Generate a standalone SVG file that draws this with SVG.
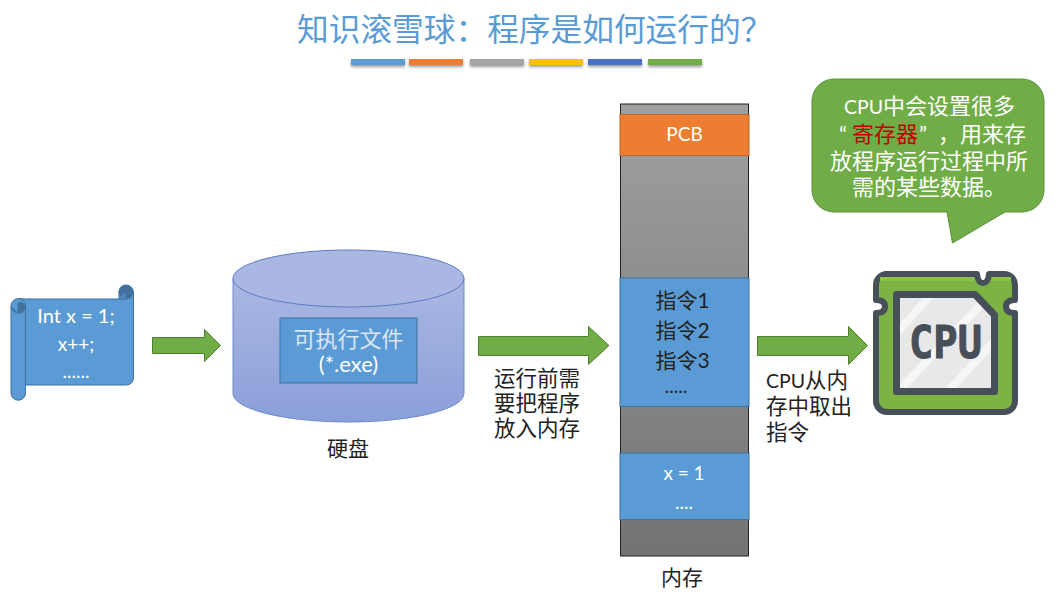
<svg xmlns="http://www.w3.org/2000/svg" width="1063" height="603" viewBox="0 0 1063 603">
<defs>
<linearGradient id="cyl" x1="0" y1="0" x2="0" y2="1"><stop offset="0" stop-color="#a9b7e2"/><stop offset="1" stop-color="#8b9fd9"/></linearGradient>
<linearGradient id="mem" x1="0" y1="0" x2="0" y2="1"><stop offset="0" stop-color="#a0a0a0"/><stop offset="1" stop-color="#737373"/></linearGradient>
<filter id="sh" x="-10%" y="-50%" width="120%" height="250%"><feDropShadow dx="0" dy="2" stdDeviation="1.500" flood-color="#000" flood-opacity="0.4"/></filter>
<clipPath id="chip"><path d="M896.500 294.500H975L994.500 315V391.500H896.500Z"/></clipPath>
</defs>
<style>
text{font-family:"Lato","Noto Sans CJK SC",sans-serif;text-anchor:middle}
.w{fill:#fff;font-size:19px}
.k{fill:#222;font-size:21px}
.t{fill:#5b9bd5;font-size:31.700px;text-anchor:start}
.arr{fill:#70ad47;stroke:#507e32;stroke-width:1}
.blue{fill:#5b9bd5;stroke:#41719c;stroke-width:1}
.kl{fill:#222;font-size:21.500px;text-anchor:start}
.c{fill:#fff;font-size:22px}
.lat{font-size:19.500px}
</style>
<rect width="1063" height="603" fill="#fff"/>
<g id="title">
<text class="t" x="297" y="41">知识滚雪球&#xFF1A;程序是如何运行的&#xFF1F;</text>
<g filter="url(#sh)">
<rect x="351" y="59" width="54" height="6" fill="#5b9bd5"/>
<rect x="409" y="59" width="54" height="6" fill="#ed7d31"/>
<rect x="470" y="59" width="54" height="6" fill="#a5a5a5"/>
<rect x="529" y="59" width="54" height="6" fill="#ffc000"/>
<rect x="588" y="59" width="54" height="6" fill="#4472c4"/>
<rect x="648" y="59" width="54" height="6" fill="#70ad47"/>
</g>
</g>
<g id="connectors">
<path class="arr" d="M152.500 337.500H204.500V329.500L220.500 345.500L204.500 361.500V353.500H152.500Z"/>
<path class="arr" d="M478.500 336.500H588.500V326.500L609 345.500L588.500 364.500V355.500H478.500Z"/>
<path class="arr" d="M757.500 336.500H848.500V326.500L867.500 345.500L848.500 364.500V355.500H757.500Z"/>
<text class="kl" x="494" y="386">运行前需</text>
<text class="kl" x="494" y="411">要把程序</text>
<text class="kl" x="494" y="436">放入内存</text>
<text class="kl" x="766" y="388"><tspan class="lat">CPU</tspan>从内</text>
<text class="kl" x="766" y="414">存中取出</text>
<text class="kl" x="766" y="440">指令</text>
</g>
<g id="program">
<path class="blue" d="M25 299H119V291.500A7.500 7.500 0 0 1 133.500 291.500V378A7 7 0 0 1 126.500 385H25.500V393A7 7 0 0 1 11 393V306A7.500 7.500 0 0 1 18.500 298.500Z"/>
<circle cx="126" cy="292" r="7.500" fill="#41719c"/>
<path d="M119 299H126V292" fill="#4f8cc4" stroke="#41719c"/>
<path d="M18 298.500A7.500 7.500 0 0 1 25.500 306V385" fill="none" stroke="#41719c"/>
<path d="M11 306A7.500 7.500 0 0 0 18 313A6 6 0 0 0 25 306A5 5 0 0 0 18 303V313" fill="#41719c" stroke="#41719c"/>
<text class="w" x="76" y="323" style="font-size:20px">Int x = 1;</text>
<text class="w" x="76" y="351">x++;</text>
<text class="w" x="76" y="378">......</text>
</g>
<g id="disk">
<path d="M233 278.500V393.500A115.500 28.500 0 0 0 464 393.500V278.500Z" fill="url(#cyl)" stroke="#6d8bc9"/>
<ellipse cx="348.500" cy="278.500" rx="115.500" ry="28.500" fill="#a9b7e2" stroke="#5b7cc0"/>
<rect class="blue" x="280" y="318" width="137" height="65"/>
<text x="348.500" y="347" style="fill:#dce6f5;font-size:22px">可执行文件</text>
<text x="348.500" y="372" class="w" style="font-size:22px">(*.exe)</text>
<text x="348" y="456" class="k">硬盘</text>
</g>
<g id="memory">
<rect x="620.500" y="104" width="128" height="452" fill="url(#mem)" stroke="#222" stroke-width="1"/>
<rect x="620" y="114.500" width="129" height="41" fill="#ed7d31" stroke="#c0652a"/>
<text x="684.500" y="141" class="w">PCB</text>
<rect class="blue" x="620" y="278" width="129" height="128.500"/>
<text x="682.500" y="308" class="k">指令1</text>
<text x="682.500" y="338" class="k">指令2</text>
<text x="682.500" y="368" class="k">指令3</text>
<text x="676" y="393" class="k" style="font-size:19px">.....</text>
<rect class="blue" x="620" y="453" width="129" height="66.500"/>
<text x="684" y="480" class="w">x = 1</text>
<text x="684" y="509" class="w">....</text>
<text x="682" y="585" class="k">内存</text>
</g>
<g id="callout">
<path d="M834 79H1022A22 22 0 0 1 1044 101V190A22 22 0 0 1 1022 212H1005L952.500 243L947 212H834A22 22 0 0 1 812 190V101A22 22 0 0 1 834 79Z" fill="#70ad47" stroke="#5a8f38"/>
<text class="c" x="844" y="114" style="text-anchor:start"><tspan class="lat">CPU</tspan>中会设置很多</text>
<text class="c" y="142" style="text-anchor:start"><tspan x="839">“</tspan><tspan x="852" fill="#c00000">寄存器</tspan><tspan x="919">”</tspan><tspan x="938">&#xFF0C;</tspan><tspan x="960">用来存</tspan></text>
<text class="c" x="929" y="169">放程序运行过程中所</text>
<text class="c" x="929" y="195">需的某些数据。</text>
</g>
<g id="cpu">
<path d="M885 274H977Q978 283 983 283Q988 283 989 274H1004A11 11 0 0 1 1015 285V300Q1006 300 1006 306.500Q1006 313 1015 313V401A11 11 0 0 1 1004 412H887A11 11 0 0 1 876 401V313Q885 313 885 306.500Q885 300 876 300V285A11 11 0 0 1 887 274Z" fill="#7cb342" stroke="#474f59" stroke-width="6" stroke-linejoin="round"/>
<path d="M880 279H974M992 279H1011" stroke="#8bc34a" stroke-width="4" fill="none"/>
<path d="M896.500 294.500H975L994.500 315V391.500H896.500Z" fill="#e8e8e8"/>
<g clip-path="url(#chip)" stroke="#f6f6f6" stroke-width="8" fill="none">
<path d="M890 340L940 285M890 400L990 295M940 400L1000 335"/>
</g>
<path d="M896.500 294.500H975L994.500 315V391.500H896.500Z" fill="none" stroke="#474f59" stroke-width="7" stroke-linejoin="round"/>
<text x="945.500" y="358" textLength="73" lengthAdjust="spacingAndGlyphs" style="font-family:'DejaVu Sans Mono',monospace;font-weight:700;font-size:44px;fill:#474f59;stroke:#474f59;stroke-width:1;stroke-linejoin:round">CPU</text>
</g>
</svg>
